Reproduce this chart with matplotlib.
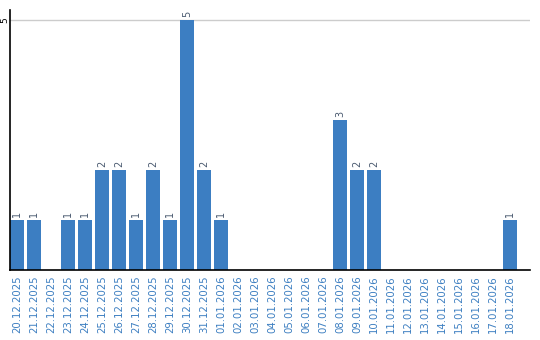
import matplotlib
matplotlib.use("Agg")
import matplotlib.pyplot as plt

dates = ["20.12.2025", "21.12.2025", "22.12.2025", "23.12.2025", "24.12.2025",
         "25.12.2025", "26.12.2025", "27.12.2025", "28.12.2025", "29.12.2025",
         "30.12.2025", "31.12.2025", "01.01.2026", "02.01.2026", "03.01.2026",
         "04.01.2026", "05.01.2026", "06.01.2026", "07.01.2026", "08.01.2026",
         "09.01.2026", "10.01.2026", "11.01.2026", "12.01.2026", "13.01.2026",
         "14.01.2026", "15.01.2026", "16.01.2026", "17.01.2026", "18.01.2026"]
counts = [1, 1, 0, 1, 1, 2, 2, 1, 2, 1, 5, 2, 1, 0, 0, 0, 0, 0, 0, 3,
          2, 2, 0, 0, 0, 0, 0, 0, 0, 1]

bar_color = "#3c7ec2"
label_color = "#3d7fc1"

fig = plt.figure(figsize=(5.4, 3.4), dpi=100)
ax = fig.add_axes([10/540, 70/340, 520/540, 260/340])

x = list(range(len(dates)))
ax.bar(x, counts, width=0.82, color=bar_color, zorder=2)

for xi, v in zip(x, counts):
    if v > 0:
        ax.text(xi, v + 0.06, str(v), rotation=90, ha="center", va="bottom",
                fontsize=7, color="#4a5a70")

ax.set_xlim(-0.41, 30.18)
ax.set_ylim(0, 5.2)
ax.set_yticks([5])
ax.set_yticklabels(["5"], rotation=90, fontsize=6.5, va="center")
ax.tick_params(axis="y", length=0, pad=0.5)
ax.yaxis.grid(True, color="#cccccc", linewidth=1, zorder=0)
ax.set_xticks(x)
ax.set_xticklabels(dates, rotation=90, fontsize=7.3, color=label_color)
ax.tick_params(axis="x", length=0, pad=4)

for s in ["top", "right"]:
    ax.spines[s].set_visible(False)
ax.spines["left"].set_color("black")
ax.spines["bottom"].set_color("black")
ax.spines["left"].set_linewidth(1.2)
ax.spines["bottom"].set_linewidth(1.2)

fig.savefig("out.png", dpi=100)
